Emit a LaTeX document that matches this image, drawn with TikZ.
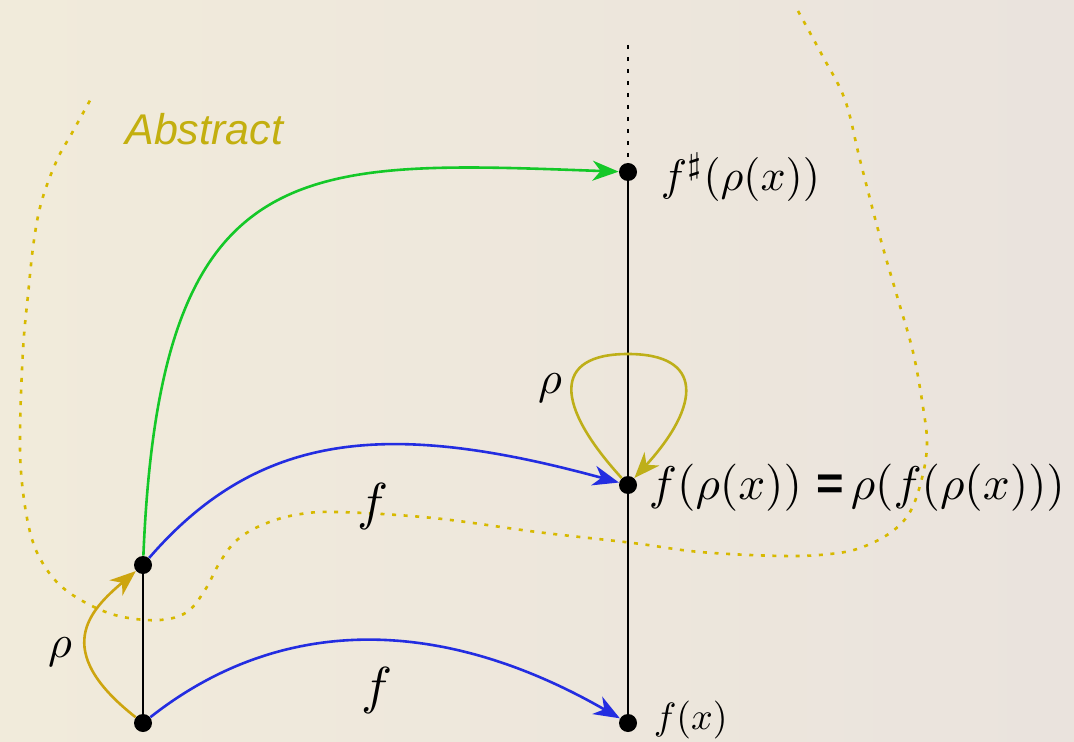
\documentclass[tikz,border=0pt]{standalone}
\usepackage{fontspec}
\usetikzlibrary{arrows.meta}
\newfontfamily\sfarial{Liberation Sans}
\definecolor{bgL}{RGB}{241,235,219}
\definecolor{bgR}{RGB}{234,227,221}
\definecolor{grn}{RGB}{20,200,40}
\definecolor{blu}{RGB}{35,45,225}
\definecolor{rhoA}{RGB}{205,165,15}
\definecolor{rhoB}{RGB}{190,175,25}
\definecolor{dotY}{RGB}{215,185,0}
\definecolor{absY}{RGB}{195,175,15}
\tikzset{
  pt/.style={circle,fill=black,inner sep=0pt,minimum size=9pt},
  lbl/.style={inner sep=0pt},
  arr/.style={line width=1.3pt,-{Stealth[length=13pt,width=10pt,inset=4pt]}},
  garr/.style={arr,draw=grn},
  barr/.style={arr,draw=blu},
  rarr/.style={arr,draw=#1},
  axis/.style={line width=1.3pt,black},
  dotax/.style={line width=1.4pt,black,dash pattern=on 2pt off 4pt},
  region/.style={line width=1.3pt,dotY,dash pattern=on 2pt off 3.8pt}
}
\begin{document}
\begin{tikzpicture}[x=0.5pt,y=-0.5pt]
\shade[left color=bgL,right color=bgR] (0,0) rectangle (1074,742);
\useasboundingbox (0,0) rectangle (1074,742);

% region boundary
\draw[region] plot[smooth,tension=0.6] coordinates {
(798,11)(822,55)(845,100)(860,160)(880,237)(897,296)(913,352)(923,407)(927,444)(922,478)(910,512)(890,533)(860,548)(830,554)(783,556)(700,552)(633,543)(537,532)(433,518)(337,512)(295,515)(262,525)(237,540)(220,562)(205,590)(187,612)(160,620)(123,617)(92,606)(62,587)(42,562)(30,532)(22,483)(20,433)(23,350)(28,295)(34,240)(42,200)(57,160)(72,133)(93,95)};

\node[lbl,anchor=base west,text=absY] (abs) at (125,145) {\fontsize{21.5}{25}\sfarial\itshape Abstract};

% nodes
\node[pt] (lb) at (143,723) {};
\node[pt] (lu) at (143,565) {};
\node[pt] (fs) at (628,172) {};
\node[pt] (mid) at (628,485) {};
\node[pt] (rb) at (628,723) {};
\coordinate (top) at (628,45);

% axes
\draw[dotax] (top) -- (fs);
\draw[axis] (fs) -- (mid) -- (rb);
\draw[axis] (lu) -- (lb);

% arrows
\draw[garr] (lu) .. controls (160,150) and (300,160) .. (fs);
\draw[barr] (lu) .. controls (260,430) and (390,420) .. (mid);
\draw[barr] (lb) .. controls (280,615) and (440,615) .. (rb);
\draw[rarr=rhoA] (lb) .. controls (50,650) and (90,610) .. (lu);
\coordinate (looptop) at (628,354);
\draw[rarr=rhoB] (mid) .. controls (555,405) and (552,354) .. (looptop) .. controls (704,354) and (701,405) .. (mid);

% labels
\node[lbl,scale=2.3] (rhoL) at (60,652) {$\rho$};
\node[lbl,scale=2.3] (rhoM) at (550,388) {$\rho$};
\node[lbl,scale=2.6] (fU) at (373,506) {$f$};
\node[lbl,scale=2.6] (fL) at (377,690) {$f$};
\node[lbl,scale=2.2,anchor=west] (fsl) at (660,177) {$f^\sharp(\rho(x))$};
\node[lbl,scale=2.36,anchor=west] (midl) at (648,488) {$f(\rho(x))$\hspace{0.3em}{\sfarial\bfseries =}\hspace{0.15em}$\rho(f(\rho(x)))$};
\node[lbl,scale=1.9,anchor=west] (rbl) at (653,720) {$f(x)$};
\end{tikzpicture}
\end{document}
